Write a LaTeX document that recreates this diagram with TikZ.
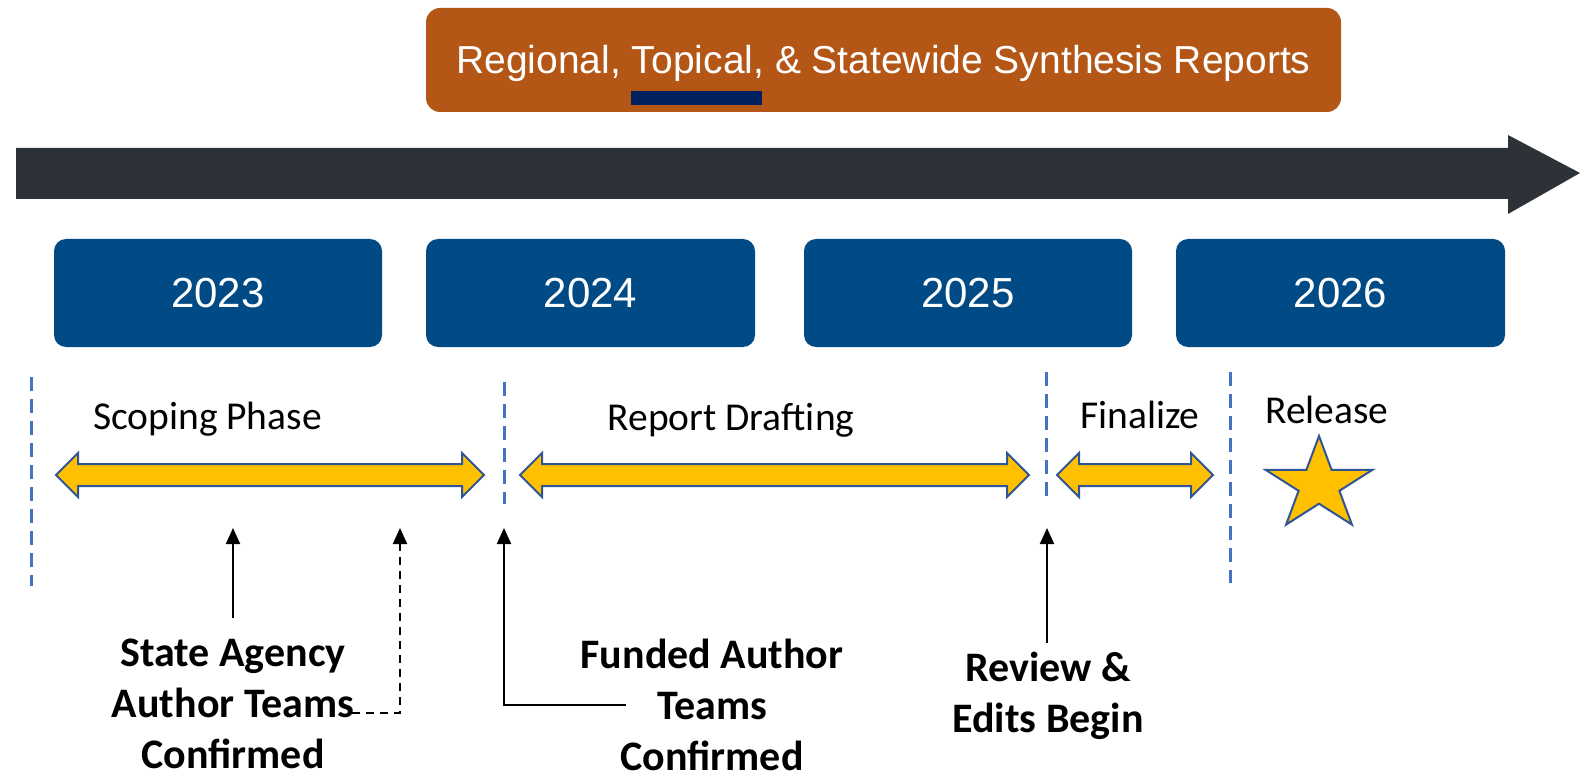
\documentclass[tikz,border=0pt]{standalone}
\usepackage{fontspec}
\setmainfont{Carlito}
\newfontfamily\helv{Liberation Sans}
\usetikzlibrary{arrows.meta}
\definecolor{rust}{RGB}{180,87,22}
\definecolor{navybar}{RGB}{0,32,96}
\definecolor{darkbar}{RGB}{45,50,57}
\definecolor{yearblue}{RGB}{0,75,133}
\definecolor{dashblue}{RGB}{68,114,196}
\definecolor{gold}{RGB}{255,192,0}
\definecolor{goldedge}{RGB}{47,85,151}
\tikzset{
  yearbox/.style={fill=yearblue, rounded corners=6pt},
  yeartext/.style={text=white, font=\helv\fontsize{21}{25}\selectfont},
  phasetext/.style={font=\fontsize{19.75}{24}\selectfont, anchor=base},
  milestone/.style={font=\bfseries\fontsize{21}{25.3}\selectfont, align=center, anchor=base},
  divider/.style={draw=dashblue, line width=1.5pt, dash pattern=on 7pt off 4pt},
  spanarrow/.style={fill=gold, draw=goldedge, line width=1pt, line join=miter},
  pointer/.style={draw=black, line width=1pt, -{Triangle[length=8pt,width=7pt]}},
}
\begin{document}
\begin{tikzpicture}[x=0.5pt, y=-0.5pt]
\useasboundingbox (0,0) rectangle (1590,775);
% header box
\fill[rust, rounded corners=7pt] (426,8) rectangle (1341,112);
\node[text=white, font=\helv\fontsize{19.5}{23}\selectfont] (title) at (883.5,63) {Regional, Topical, \& Statewide Synthesis Reports};
\fill[navybar] (631,91) rectangle (762,105);
% main timeline arrow
\fill[darkbar] (16,148) -- (1508,148) -- (1508,135) -- (1580,173) -- (1508,214) -- (1508,199) -- (16,199) -- cycle;
% year boxes
\fill[yearbox] (54,239) rectangle (382,347);
\node[yeartext] (y2023) at (218,293) {2023};
\fill[yearbox] (426,239) rectangle (755,347);
\node[yeartext] (y2024) at (590.5,293) {2024};
\fill[yearbox] (804,239) rectangle (1132,347);
\node[yeartext] (y2025) at (968,293) {2025};
\fill[yearbox] (1176,239) rectangle (1505,347);
\node[yeartext] (y2026) at (1340.5,293) {2026};
% dividers
\draw[divider] (31,377) -- (31,586);
\draw[divider] (504,382) -- (504,504);
\draw[divider] (1046,372) -- (1046,499);
\draw[divider] (1230,372) -- (1230,583);
% phase labels
\node[phasetext] (scope) at (207.5,429) {Scoping Phase};
\node[phasetext] (draft) at (731,430) {Report Drafting};
\node[phasetext] (final) at (1140,428) {Finalize};
\node[phasetext] (release) at (1327,423) {Release};
% span arrows
\draw[spanarrow] (56,475) -- (78,453) -- (78,464) -- (462,464) -- (462,453) -- (484,475) -- (462,497) -- (462,486) -- (78,486) -- (78,497) -- cycle;
\draw[spanarrow] (520,475) -- (542,453) -- (542,464) -- (1007,464) -- (1007,453) -- (1029,475) -- (1007,497) -- (1007,486) -- (542,486) -- (542,497) -- cycle;
\draw[spanarrow] (1057,475) -- (1079,453) -- (1079,464) -- (1191,464) -- (1191,453) -- (1213,475) -- (1191,497) -- (1191,486) -- (1079,486) -- (1079,497) -- cycle;
% star
\draw[spanarrow] (1319,436) -- (1306.4,469.9) -- (1265.7,469.9) -- (1298.6,490.8) -- (1286.1,524.6) -- (1319,503.7) -- (1351.9,524.6) -- (1339.4,490.8) -- (1372.3,469.9) -- (1331.6,469.9) -- cycle;
% milestone labels (anchor base = last line baseline)
\node[milestone] (m1) at (233,768) {State Agency\\Author Teams\\Confirmed};
\node[milestone] (m2) at (712,770) {Funded Author\\Teams\\Confirmed};
\node[milestone] (m3) at (1048,732) {Review \&\\Edits Begin};
% pointer coordinates
\coordinate (p1s) at (233,618);
\coordinate (p1t) at (233,528);
\coordinate (p2s) at (352,713);
\coordinate (p2c) at (400,713);
\coordinate (p2t) at (400,528);
\coordinate (p3s) at (626,705);
\coordinate (p3c) at (504,705);
\coordinate (p3t) at (504,528);
\coordinate (p4s) at (1047,643);
\coordinate (p4t) at (1047,528);
\draw[pointer] (p1s) -- (p1t);
\draw[pointer, dash pattern=on 4pt off 3pt] (p2s) -- (p2c) -- (p2t);
\draw[pointer] (p3s) -- (p3c) -- (p3t);
\draw[pointer] (p4s) -- (p4t);
\end{tikzpicture}
\end{document}
